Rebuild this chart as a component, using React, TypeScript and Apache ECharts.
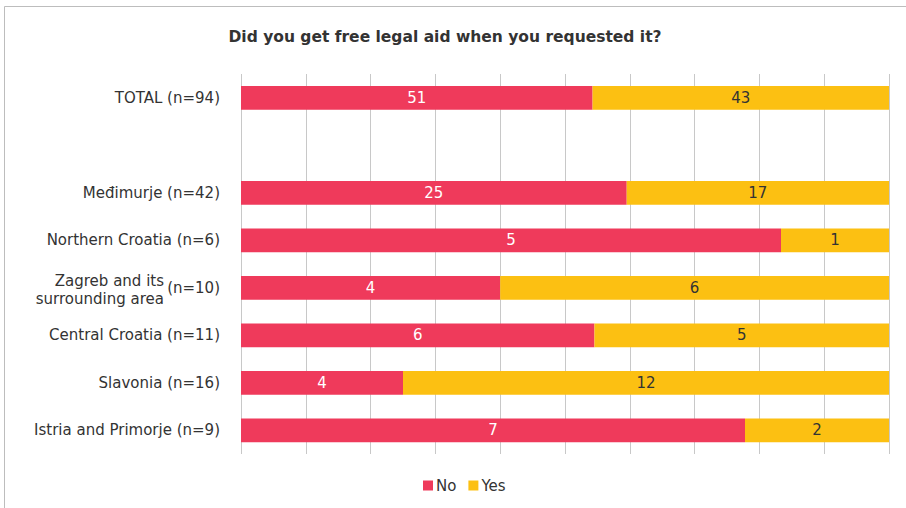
import React, { useEffect, useRef } from "react";
import * as echarts from "echarts";

const categories = [
  "TOTAL (n=94)",
  "",
  "Međimurje (n=42)",
  "Northern Croatia (n=6)",
  "Zagreb and its\nsurrounding area",
  "Central Croatia (n=11)",
  "Slavonia (n=16)",
  "Istria and Primorje (n=9)",
];
const zagrebIndex = 4;
const zagrebN = "(n=10)";
const noValues: (number | null)[] = [51, null, 25, 5, 4, 6, 4, 7];
const yesValues: (number | null)[] = [43, null, 17, 1, 6, 5, 12, 2];
const seriesNames = ["No", "Yes"];
const colors = ["#EF3A5B", "#FCC012"];
const titleText = "Did you get free legal aid when you requested it?";

const FONT = "DejaVu Sans";
const FS = 15;

export default function App() {
  const ref = useRef<HTMLDivElement>(null);
  useEffect(() => {
    if (!ref.current) return;
    const chart = echarts.init(ref.current, undefined, { renderer: "svg" });
    const totals = noValues.map((v, i) => (v == null ? 0 : v + (yesValues[i] || 0)));
    const pct = (arr: (number | null)[]) =>
      arr.map((v, i) => (v == null ? null : { value: (v / totals[i]) * 100, raw: v }));
    const border = {
      type: "rect",
      silent: true,
      shape: { x: 4.5, y: 6.5, width: 920, height: 520 },
      style: { fill: "none", stroke: "#bdbdbd", lineWidth: 1 },
    };
    chart.setOption({
      animation: false,
      textStyle: { fontFamily: FONT },
      title: {
        text: titleText,
        left: 440,
        textAlign: "center",
        top: 24,
        textStyle: { fontFamily: FONT, fontSize: 15.5, fontWeight: "bold", color: "#333" },
      },
      legend: {
        bottom: 10,
        left: 418,
        itemWidth: 10,
        itemHeight: 10,
        itemGap: 12,
        icon: "rect",
        textStyle: { fontFamily: FONT, fontSize: FS, color: "#333", padding: [0, 0, 0, -2] },
        data: seriesNames,
      },
      grid: { left: 241, right: 17, top: 74, bottom: 54, containLabel: false },
      xAxis: {
        type: "value",
        min: 0,
        max: 100,
        interval: 10,
        axisLabel: { show: false },
        axisLine: { show: false },
        axisTick: { show: false },
        splitLine: { show: true, lineStyle: { color: "#c8c8c8", width: 1 } },
      },
      yAxis: {
        type: "category",
        inverse: true,
        data: categories,
        axisLine: { show: false },
        axisTick: { show: false },
        axisLabel: {
          fontFamily: FONT,
          fontSize: FS,
          color: "#333",
          margin: 21,
          formatter: (v: string, i: number) => (i === zagrebIndex ? "" : v),
        },
      },
      series: [
        {
          name: seriesNames[0],
          type: "bar",
          stack: "total",
          barWidth: "50%",
          itemStyle: { color: colors[0] },
          label: {
            show: true,
            position: "inside",
            color: "#fff",
            fontFamily: FONT,
            fontSize: FS,
            formatter: (p: any) => String(p.data.raw),
          },
          data: pct(noValues),
        },
        {
          name: seriesNames[1],
          type: "bar",
          stack: "total",
          barWidth: "50%",
          itemStyle: { color: colors[1] },
          label: {
            show: true,
            position: "inside",
            color: "#333",
            fontFamily: FONT,
            fontSize: FS,
            formatter: (p: any) => String(p.data.raw),
          },
          data: pct(yesValues),
        },
      ],
      graphic: [border],
    });
    const y = chart.convertToPixel({ yAxisIndex: 0 }, zagrebIndex) as number;
    const lines = categories[zagrebIndex].split("\n");
    const txt = (text: string, x: number, yy: number) => ({
      type: "text",
      silent: true,
      x,
      y: yy,
      style: {
        text,
        fontFamily: FONT,
        fontSize: FS,
        fill: "#333",
        align: "right",
        verticalAlign: "middle",
      },
    });
    chart.setOption({
      graphic: [
        border,
        txt(zagrebN, 220, y),
        txt(lines[0], 164, y - 7),
        txt(lines[1], 164, y + 11),
      ],
    });
    return () => chart.dispose();
  }, []);
  return (
    <div
      ref={ref}
      style={{ position: "absolute", left: 0, top: 0, width: 906, height: 508 }}
    />
  );
}
